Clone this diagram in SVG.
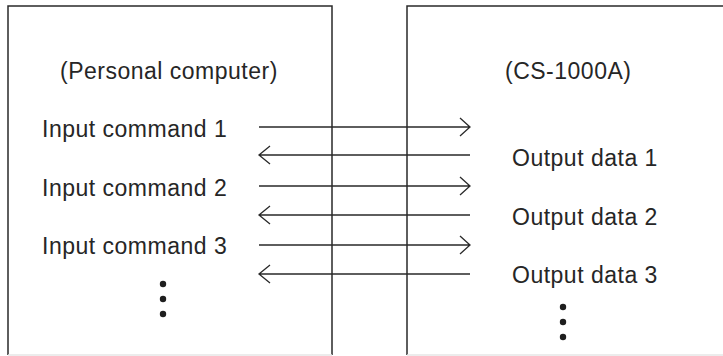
<svg xmlns="http://www.w3.org/2000/svg" width="723" height="356" viewBox="0 0 723 356">
<style>
.box{fill:none;stroke:#2a2a2a;stroke-width:1.5}
.bot{fill:none;stroke:#e6e6e6;stroke-width:1.5}
.t{font-family:"Liberation Sans",Arial,sans-serif;font-size:23px;letter-spacing:0.5px;fill:#262626}
.c{stroke:#2a2a2a;stroke-width:1.3;fill:none}
.dot{fill:#1e1e1e}
</style>
<g id="pc">
<path class="box" d="M8 355V6H332V355"/>
<path class="bot" d="M8 355H332"/>
<text class="t" x="60" y="79">(Personal computer)</text>
<text class="t" x="42" y="137">Input command 1</text>
<text class="t" x="42" y="195.5">Input command 2</text>
<text class="t" x="42" y="254">Input command 3</text>
<circle class="dot" cx="163" cy="284" r="3.2"/>
<circle class="dot" cx="163" cy="299" r="3.2"/>
<circle class="dot" cx="163" cy="314" r="3.2"/>
</g>
<g id="cs">
<path class="box" d="M407 355V6H723"/>
<path class="bot" d="M407 355H723"/>
<text class="t" x="505" y="79">(CS-1000A)</text>
<text class="t" x="512" y="166">Output data 1</text>
<text class="t" x="512" y="224.5">Output data 2</text>
<text class="t" x="512" y="283">Output data 3</text>
<circle class="dot" cx="563" cy="307" r="3.2"/>
<circle class="dot" cx="563" cy="322" r="3.2"/>
<circle class="dot" cx="563" cy="337" r="3.2"/>
</g>
<g id="connectors">
<path class="c" d="M259 127H470M460 118L470 127L460 136"/>
<path class="c" d="M470 155H259M270 146L259 155L270 164"/>
<path class="c" d="M259 186H470M460 177L470 186L460 195"/>
<path class="c" d="M470 215H259M270 206L259 215L270 224"/>
<path class="c" d="M259 245H470M460 236L470 245L460 254"/>
<path class="c" d="M470 274H259M270 265L259 274L270 283"/>
</g>
</svg>
